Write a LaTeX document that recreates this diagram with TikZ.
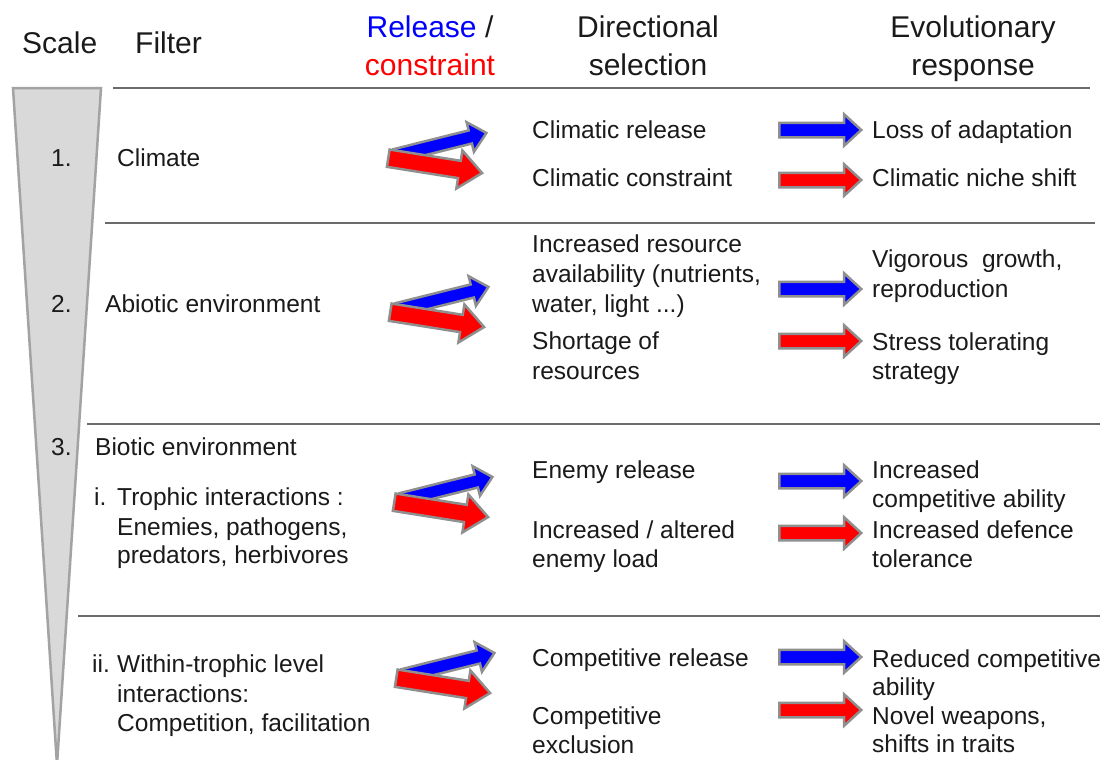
\documentclass[tikz,border=0pt]{standalone}
\usepackage{fontspec}
\setmainfont{Liberation Sans}
\usetikzlibrary{shapes.arrows}
\definecolor{edgegray}{HTML}{8F8F8F}
\definecolor{rulegray}{HTML}{6A6A6A}
\definecolor{trifill}{HTML}{D9D9D9}
\definecolor{triedge}{HTML}{A3A3A3}
\definecolor{txtcol}{HTML}{1A1A1A}
\definecolor{relblue}{HTML}{0000FF}
\definecolor{conred}{HTML}{FF0000}
\begin{document}
\begin{tikzpicture}[x=1pt,y=-1pt,
  body/.style={font=\fontsize{24.5}{30}\selectfont, text=txtcol, inner sep=0pt, anchor=base west},
  head/.style={font=\fontsize{30}{37}\selectfont, text=txtcol, inner sep=0pt, anchor=base},
  rule/.style={draw=rulegray, line width=2pt},
  arrbase/.style={single arrow, draw=edgegray, line width=2.5pt, anchor=tail, inner xsep=0pt},
  bluediag/.style={arrbase, fill=relblue, inner ysep=5.5pt, single arrow head extend=8.5pt, minimum height=94pt, single arrow tip angle=85},
  reddiag/.style={arrbase, fill=conred, inner ysep=7.5pt, single arrow head extend=10.5pt, minimum height=95pt, single arrow tip angle=80},
  bluestr/.style={arrbase, fill=relblue, inner ysep=6pt, single arrow head extend=8.5pt, minimum height=82pt, single arrow tip angle=85},
  redstr/.style={arrbase, fill=conred, inner ysep=6pt, single arrow head extend=8.5pt, minimum height=82pt, single arrow tip angle=85}
]
\useasboundingbox (0,0) rectangle (1108,760);
\fill[white] (0,0) rectangle (1108,760);

% scale triangle
\draw[fill=trifill, draw=triedge, line width=2.5pt, line join=miter] (13,88) -- (101,88) -- (57,765) -- cycle;

% headers
\node[head, anchor=base west] (hscale) at (22,53) {Scale};
\node[head, anchor=base west] (hfilter) at (135,53) {Filter};
\node[head] (hrel) at (430,38) {\textcolor{relblue}{Release} /};
\node[head, text=conred] (hcon) at (430,76) {constraint};
\node[head] (hdir) at (648,38) {Directional};
\node[head] (hsel) at (648,76) {selection};
\node[head] (hevo) at (973,38) {Evolutionary};
\node[head] (hresp) at (973,76) {response};

% rules
\draw[rule] (113,88) -- (1090,88);
\draw[rule] (105,223) -- (1095,223);
\draw[rule] (87,424) -- (1100,424);
\draw[rule] (78,616) -- (1100,616);

% section 1
\node[body] (n1) at (51,166) {1.};
\node[body] (f1) at (117,166) {Climate};
\node[bluediag, rotate=14] (bd1) at (394,156) {};
\node[reddiag, rotate=-9] (rd1) at (387,158) {};
\node[body] (d1a) at (532,138) {Climatic release};
\node[body] (d1b) at (532,186) {Climatic constraint};
\node[bluestr] (bs1) at (778,130) {};
\node[redstr] (rs1) at (778,180) {};
\node[body] (e1a) at (872,138) {Loss of adaptation};
\node[body] (e1b) at (872,186) {Climatic niche shift};

% section 2
\node[body] (n2) at (51,312) {2.};
\node[body] (f2) at (105,312) {Abiotic environment};
\node[bluediag, rotate=14] (bd2) at (396,310) {};
\node[reddiag, rotate=-9] (rd2) at (389,312) {};
\node[body] (d2a) at (532,252) {Increased resource};
\node[body] (d2b) at (532,282) {availability (nutrients,};
\node[body] (d2c) at (532,312) {water, light ...)};
\node[body] (d2d) at (532,349) {Shortage of};
\node[body] (d2e) at (532,379) {resources};
\node[bluestr] (bs2) at (778,289) {};
\node[redstr] (rs2) at (778,341) {};
\node[body] (e2a) at (872,267) {Vigorous\ \ growth,};
\node[body] (e2b) at (872,297) {reproduction};
\node[body] (e2c) at (872,350) {Stress tolerating};
\node[body] (e2d) at (872,379) {strategy};

% section 3
\node[body] (n3) at (51,455) {3.};
\node[body] (f3) at (95,455) {Biotic environment};
\node[body] (f3a) at (94,505) {i.};
\node[body] (f3b) at (117,505) {Trophic interactions :};
\node[body] (f3c) at (117,535) {Enemies, pathogens,};
\node[body] (f3d) at (117,563) {predators, herbivores};
\node[bluediag, rotate=14] (bd3) at (400,500) {};
\node[reddiag, rotate=-9] (rd3) at (393,502) {};
\node[body] (d3a) at (532,478) {Enemy release};
\node[body] (d3b) at (532,538) {Increased / altered};
\node[body] (d3c) at (532,567) {enemy load};
\node[bluestr] (bs3) at (778,481) {};
\node[redstr] (rs3) at (778,533) {};
\node[body] (e3a) at (872,478) {Increased};
\node[body] (e3b) at (872,507) {competitive ability};
\node[body] (e3c) at (872,538) {Increased defence};
\node[body] (e3d) at (872,567) {tolerance};

% section 4
\node[body] (f4a) at (92,672) {ii.};
\node[body] (f4b) at (117,672) {Within-trophic level};
\node[body] (f4c) at (117,702) {interactions:};
\node[body] (f4d) at (117,731) {Competition, facilitation};
\node[bluediag, rotate=14] (bd4) at (402,676) {};
\node[reddiag, rotate=-9] (rd4) at (395,678) {};
\node[body] (d4a) at (532,666) {Competitive release};
\node[body] (d4b) at (532,724) {Competitive};
\node[body] (d4c) at (532,753) {exclusion};
\node[bluestr] (bs4) at (778,657) {};
\node[redstr] (rs4) at (778,710) {};
\node[body] (e4a) at (872,667) {Reduced competitive};
\node[body] (e4b) at (872,695) {ability};
\node[body] (e4c) at (872,724) {Novel weapons,};
\node[body] (e4d) at (872,752) {shifts in traits};
\end{tikzpicture}
\end{document}
